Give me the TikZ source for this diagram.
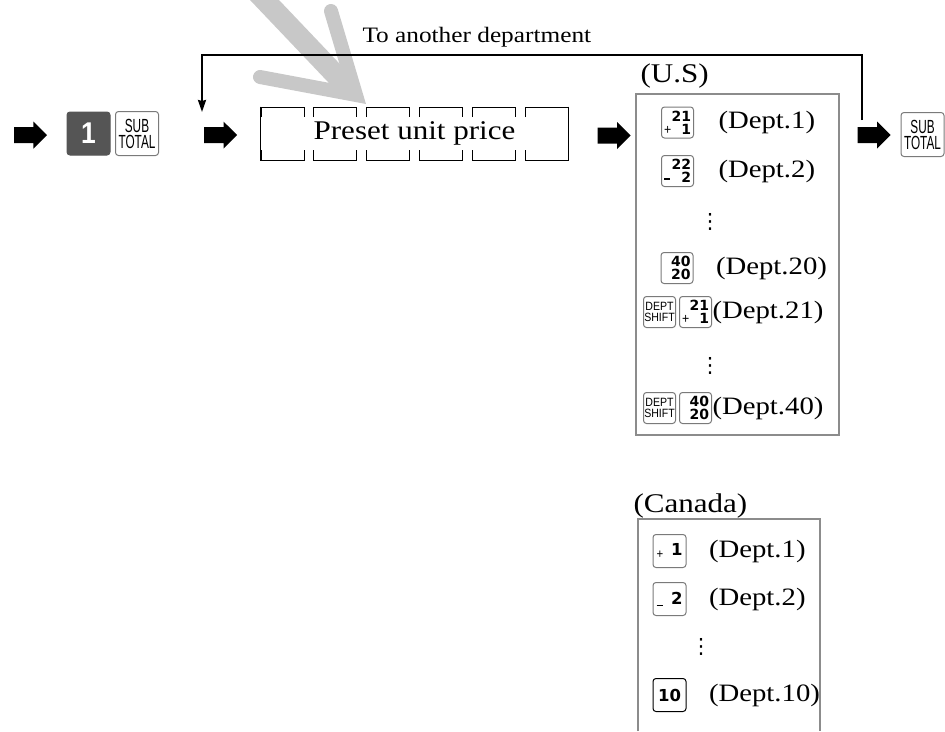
\documentclass[tikz,border=0pt]{standalone}
\usepackage{fontspec}
\setmainfont[FakeStretch=1.15]{Liberation Serif}
\newfontfamily\keyfont[FakeStretch=0.88]{Liberation Sans}
\newfontfamily\narrowfont[FakeStretch=0.62]{Liberation Sans}
\newfontfamily\digitfont{DejaVu Sans}
\newfontfamily\symfont{DejaVu Sans}
\usetikzlibrary{arrows.meta, positioning, shapes.arrows}
\definecolor{kgrey}{HTML}{7A7A7A}
\definecolor{bgrey}{HTML}{8C8C8C}
\definecolor{mgrey}{HTML}{C8C8C8}
\definecolor{kdark}{HTML}{555555}
% key tops: number on top, small sign and number below
\newcommand{\dkey}[3]{\makebox[27pt][r]{#1}\\\makebox[27pt]{\keyfont\fontsize{14}{10}\selectfont\mdseries #2\hfill\digitfont\fontsize{14}{13}\selectfont\bfseries #3}}
\newcommand{\ckey}[2]{\makebox[26pt]{\keyfont\fontsize{13}{10}\selectfont\mdseries #1\hfill\digitfont\fontsize{16.5}{16}\selectfont\bfseries #2}}
\tikzset{
  every picture/.style={line width=1pt},
  blockarrow/.style={single arrow, fill=black, draw=none, inner sep=7.5pt, minimum height=33pt, single arrow head extend=5.5pt},
  keycap/.style={draw=kgrey, rounded corners=3pt, inner sep=0pt, minimum width=32pt, minimum height=31pt, align=center, font=\digitfont\bfseries\fontsize{14}{13}\selectfont},
  bigkey/.style={keycap, minimum width=43pt, minimum height=44pt, font=\narrowfont\fontsize{19}{16}\selectfont},
  shiftkey/.style={keycap, font=\keyfont\fontsize{12}{11}\selectfont},
  cankey/.style={keycap, minimum width=33pt, minimum height=33pt},
  dept/.style={inner sep=0pt, font=\fontsize{25}{25}\selectfont},
  region/.style={inner sep=0pt, anchor=base west, font=\fontsize{27}{27}\selectfont},
  listbox/.style={draw=bgrey, line width=2pt},
  loopline/.style={line width=2pt},
  moredots/.style={inner sep=0pt, font=\symfont\fontsize{21}{21}\selectfont},
  wmark/.style={draw=mgrey, line cap=round, line join=miter},
}
\begin{document}
\begin{tikzpicture}[x=1pt, y=-1pt]
  \useasboundingbox (0,0) rectangle (945,731);

  % grey mark behind everything
  \draw[wmark, line width=21pt, line cap=butt] (255,-10) -- (352,92);
  \draw[wmark, line width=14pt] (331,11) -- (356,95) -- (260,77);

  % top row
  \node[blockarrow] (arrA) at (26.5,135) {};
  \node[keycap, fill=kdark, draw=kdark, minimum width=43pt, minimum height=43pt, text=white, font=\keyfont\bfseries\fontsize{30}{30}\selectfont] (one) at (88.5,133.5) {1};
  \node[bigkey] (subA) at (137,133.5) {SUB\\TOTAL};
  \node[blockarrow] (arrB) at (216.5,135) {};

  \node[inner sep=0pt, minimum width=307pt, minimum height=53pt, font=\fontsize{27}{27}\selectfont] (preset) at (414.5,133.5) {Preset unit price};
  \foreach \i in {0,...,5} {
    \draw ({261+52.8*\i},117) -- ++(0,-10) -- ++(43,0) -- ++(0,10);
    \draw ({261+52.8*\i},150) -- ++(0,10) -- ++(43,0) -- ++(0,-10);
  }
  \draw (preset.north west) -- (preset.south west);
  \draw (preset.north east) -- (preset.south east);

  \node[blockarrow] (arrC) at (610,135.5) {};
  \node[blockarrow] (arrD) at (870,135) {};
  \node[bigkey] (subB) at (922.5,134.5) {SUB\\TOTAL};

  % way back to another department
  \coordinate (back) at (862,120);
  \coordinate (turn) at (202,55);
  \coordinate (ret) at (202,112);
  \draw[loopline, -{Stealth[length=12pt, width=8pt, inset=1pt]}] (back) |- (turn) -- (ret);
  \node[anchor=base west, inner sep=0pt, font=\fontsize{22}{22}\selectfont] (note) at (362,42) {To another department};

  % U.S
  \node[region] (us) at (640,82) {(U.S)};
  \node[listbox, anchor=north west, minimum width=203pt, minimum height=341pt, inner sep=0pt] (usbox) at (635,93) {};
  \node[keycap] (dkA) at (677.5,122.5) {\dkey{21}{+}{1}};
  \node[dept, right=24pt of dkA] (lblA) {(Dept.1)};
  \node[keycap] (dkB) at (677.5,171) {\dkey{22}{\rule[3pt]{6pt}{1.2pt}}{2}};
  \node[dept, right=24pt of dkB] (lblB) {(Dept.2)};
  \node[moredots] (dotsA) at (710,222) {⋮};
  \node[keycap] (dkC) at (677,268) {\dkey{40}{}{20}};
  \node[dept, right=22pt of dkC] (lblC) {(Dept.20)};
  \node[shiftkey] (shA) at (659.5,312) {DEPT\\SHIFT};
  \node[keycap, right=3pt of shA] (dkD) {\dkey{21}{+}{1}};
  \node[dept, right=0pt of dkD] (lblD) {(Dept.21)};
  \node[moredots] (dotsB) at (710,366) {⋮};
  \node[shiftkey] (shB) at (659.5,408) {DEPT\\SHIFT};
  \node[keycap, right=3pt of shB] (dkE) {\dkey{40}{}{20}};
  \node[dept, right=0pt of dkE] (lblE) {(Dept.40)};

  % Canada
  \node[region] (ca) at (633,512) {(Canada)};
  \draw[listbox] (638,731) |- (820,519) -- (820,731);
  \node[cankey] (ckA) at (669.5,551) {\ckey{\raisebox{-3pt}{+}}{1}};
  \node[dept, right=22pt of ckA] (clA) {(Dept.1)};
  \node[cankey] (ckB) at (669.5,599) {\ckey{\rule[-2pt]{6pt}{1.2pt}}{2}};
  \node[dept, right=22pt of ckB] (clB) {(Dept.2)};
  \node[moredots] (dotsC) at (701,647) {⋮};
  \node[cankey, draw=black, font=\digitfont\bfseries\fontsize{16.5}{16}\selectfont] (ckC) at (669.5,695) {10};
  \node[dept, right=22pt of ckC] (clC) {(Dept.10)};
\end{tikzpicture}
\end{document}
